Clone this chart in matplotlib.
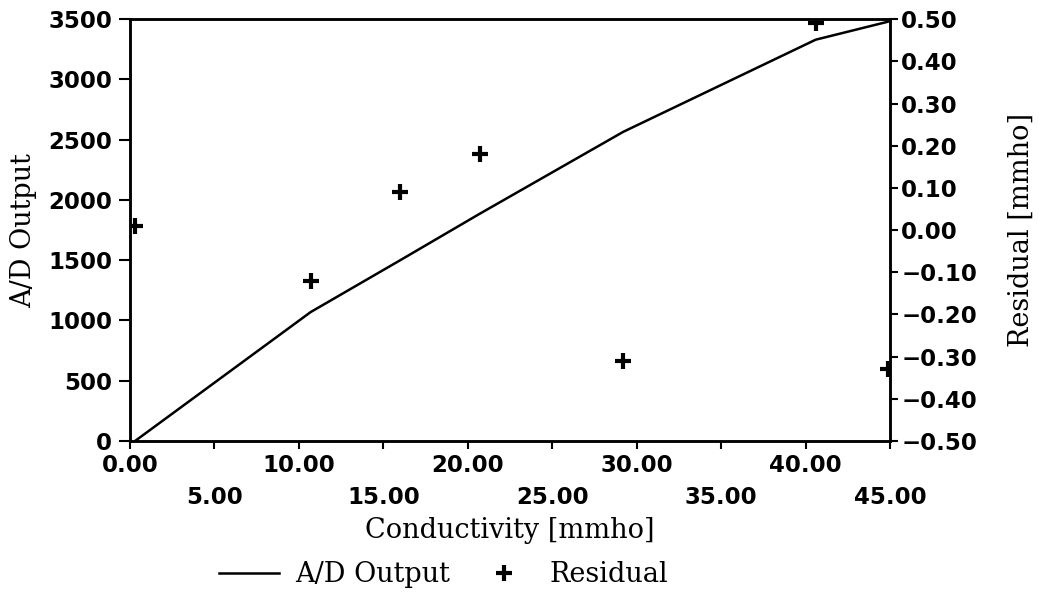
import numpy as np
import matplotlib.pyplot as plt

# Conductivity [mmho] at each calibration point
conductivity = [0.3, 10.7, 16.0, 20.7, 29.2, 40.6, 44.9]
# A/D converter output
ad_output = [0, 1070, 1500, 1885, 2565, 3330, 3480]
# residual of fit [mmho]
residual = [0.01, -0.12, 0.09, 0.18, -0.31, 0.49, -0.33]

x_ticks = [0, 5, 10, 15, 20, 25, 30, 35, 40, 45]
x_tick_labels = [f'{v:.2f}' if i % 2 == 0 else f'\n{v:.2f}' for i, v in enumerate(x_ticks)]
left_ticks = [0, 500, 1000, 1500, 2000, 2500, 3000, 3500]
right_ticks = [-0.5, -0.4, -0.3, -0.2, -0.1, 0.0, 0.1, 0.2, 0.3, 0.4, 0.5]

tick_font = dict(family='DejaVu Sans', weight='bold', size=16.5)
label_font = dict(family='DejaVu Serif', size=19.5)

fig = plt.figure(figsize=(10.44, 6.0), dpi=100)
ax = fig.add_axes([0.1245, 0.265, 0.728, 0.703])
ax2 = ax.twinx()

line, = ax.plot(conductivity, ad_output, color='black', linewidth=1.8)
pts, = ax2.plot(conductivity, residual, linestyle='none', marker='+',
                markersize=11, markeredgewidth=3, color='black')

ax.set_xlim(0, 45)
ax.set_ylim(0, 3500)
ax2.set_ylim(-0.5, 0.5)

ax.set_xticks(x_ticks)
ax.set_xticklabels(x_tick_labels, linespacing=1.5, **tick_font)
ax.set_yticks(left_ticks)
ax.set_yticklabels([str(v) for v in left_ticks], **tick_font)
ax2.set_yticks(right_ticks)
ax2.set_yticklabels([f'{v:.2f}'.replace('-', '\u2212') for v in right_ticks], **tick_font)

for a in (ax, ax2):
    a.tick_params(direction='out', length=6, width=1.5, pad=2, colors='black')
    for s in a.spines.values():
        s.set_linewidth(1.8)
ax.tick_params(axis='x', pad=3)
ax.tick_params(axis='y', length=8, pad=5)

ax.set_xlabel('Conductivity [mmho]', labelpad=6, **label_font)
ax.set_ylabel('A/D Output', labelpad=8, **label_font)
ax2.set_ylabel('Residual [mmho]', labelpad=22, **label_font)

fig.legend([line, pts], ['A/D Output', 'Residual'], loc='center',
           bbox_to_anchor=(0.425, 0.042), ncol=2, frameon=False,
           prop=dict(family='DejaVu Serif', size=19.5), handlelength=2.2,
           columnspacing=0.9, handletextpad=0.6)

fig.savefig('out.png', dpi=100)
